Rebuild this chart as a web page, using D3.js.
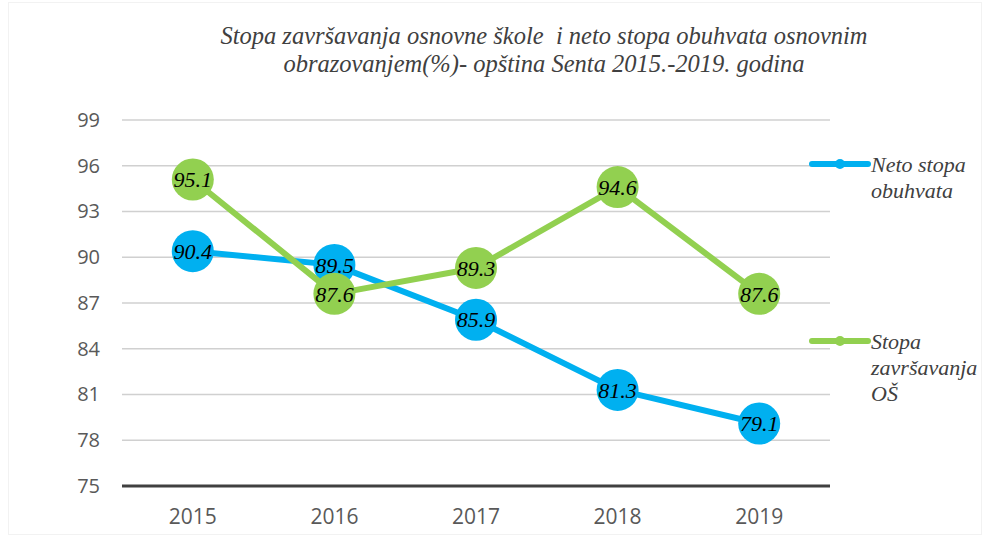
<!DOCTYPE html>
<html>
<head>
<meta charset="utf-8">
<script src="https://cdn.jsdelivr.net/npm/d3@7"></script>
<style>
	body { margin: 0; background: #fff; }
	.tick text { font-family: "Open Sans", "Liberation Sans", sans-serif; fill: #595959; }
	.title, .legend-text { font-family: "Liberation Serif", "DejaVu Serif", serif; font-style: italic; fill: #404040; }
	.title { white-space: pre; }
	.label { font-family: "Liberation Serif", "DejaVu Serif", serif; font-style: italic; fill: #000; }
</style>
</head>
<body>
<svg id="chart"></svg>
<script>
const years = ["2015", "2016", "2017", "2018", "2019"];
const netoStopa = [90.4, 89.5, 85.9, 81.3, 79.1];
const stopaZavrsavanja = [95.1, 87.6, 89.3, 94.6, 87.6];
const yTicks = [75, 78, 81, 84, 87, 90, 93, 96, 99];
const titleLines = [
	"Stopa završavanja osnovne škole  i neto stopa obuhvata osnovnim",
	"obrazovanjem(%)- opština Senta 2015.-2019. godina"
];

const series = [
	{ name: ["Neto stopa", "obuhvata"], values: netoStopa, color: "#00B0F0", legendY: 164 },
	{ name: ["Stopa", "završavanja", "OŠ"], values: stopaZavrsavanja, color: "#92D050", legendY: 341 }
];

const width = 990;
const height = 536;
const plot = { left: 122, right: 830, top: 120, bottom: 486 };

const svg = d3.select("#chart")
	.attr("width", width)
	.attr("height", height);

svg.append("rect")
	.attr("x", 8.5).attr("y", 2.5)
	.attr("width", width - 17).attr("height", height - 4)
	.attr("fill", "none")
	.attr("stroke", "#f2f2f2");

const x = d3.scaleBand()
	.domain(years)
	.range([plot.left, plot.right]);

const y = d3.scaleLinear()
	.domain([75, 99])
	.range([plot.bottom, plot.top]);

// gridlines
svg.append("g")
	.selectAll("line")
	.data(yTicks.filter((d) => d !== 75))
	.enter()
	.append("line")
	.attr("x1", plot.left)
	.attr("x2", plot.right)
	.attr("y1", (d) => y(d))
	.attr("y2", (d) => y(d))
	.attr("stroke", "#d0d0d0")
	.attr("stroke-width", 1.5);

const yAxis = svg.append("g")
	.attr("transform", `translate(${plot.left}, 0)`)
	.call(d3.axisLeft(y).tickValues(yTicks).tickSize(0).tickPadding(22));
yAxis.select(".domain").remove();
yAxis.selectAll("text").style("font-size", "20px");

svg.append("line")
	.attr("x1", plot.left)
	.attr("x2", plot.right)
	.attr("y1", y(75))
	.attr("y2", y(75))
	.attr("stroke", "#404040")
	.attr("stroke-width", 3);

const xAxis = svg.append("g")
	.attr("transform", `translate(0, ${plot.bottom})`)
	.call(d3.axisBottom(x).tickSize(0).tickPadding(23));
xAxis.select(".domain").remove();
xAxis.selectAll("text").style("font-size", "21px");

const line = d3.line()
	.x((d, i) => x(years[i]) + x.bandwidth() / 2)
	.y((d) => y(d));

series.forEach((s) => {
	const g = svg.append("g");
	g.append("path")
		.datum(s.values)
		.attr("d", line)
		.attr("fill", "none")
		.attr("stroke", s.color)
		.attr("stroke-width", 6)
		.attr("stroke-linejoin", "round");
	g.selectAll("circle")
		.data(s.values)
		.enter()
		.append("circle")
		.attr("cx", (d, i) => x(years[i]) + x.bandwidth() / 2)
		.attr("cy", (d) => y(d))
		.attr("r", 21)
		.attr("fill", s.color);
});

// data labels on top of everything
series.forEach((s) => {
	svg.append("g")
		.selectAll("text")
		.data(s.values)
		.enter()
		.append("text")
		.attr("class", "label")
		.attr("x", (d, i) => x(years[i]) + x.bandwidth() / 2)
		.attr("y", (d) => y(d))
		.attr("dy", "0.35em")
		.attr("text-anchor", "middle")
		.style("font-size", "22px")
		.text((d) => d.toFixed(1));
});

// legend
series.forEach((s) => {
	const g = svg.append("g").attr("transform", `translate(812, ${s.legendY})`);
	g.append("line")
		.attr("x1", 0).attr("x2", 56)
		.attr("stroke", s.color)
		.attr("stroke-width", 6)
		.attr("stroke-linecap", "round");
	g.append("circle")
		.attr("cx", 28).attr("r", 5)
		.attr("fill", s.color);
	g.selectAll("text")
		.data(s.name)
		.enter()
		.append("text")
		.attr("class", "legend-text")
		.attr("x", 59)
		.attr("y", (d, i) => i * 26)
		.attr("dy", "0.35em")
		.style("font-size", "22px")
		.text((d) => d);
});

// title
svg.append("g")
	.selectAll("text")
	.data(titleLines)
	.enter()
	.append("text")
	.attr("class", "title")
	.attr("x", 544)
	.attr("y", (d, i) => 35 + i * 28)
	.attr("dy", "0.35em")
	.attr("text-anchor", "middle")
	.style("font-size", "24.5px")
	.text((d) => d);
</script>
</body>
</html>
